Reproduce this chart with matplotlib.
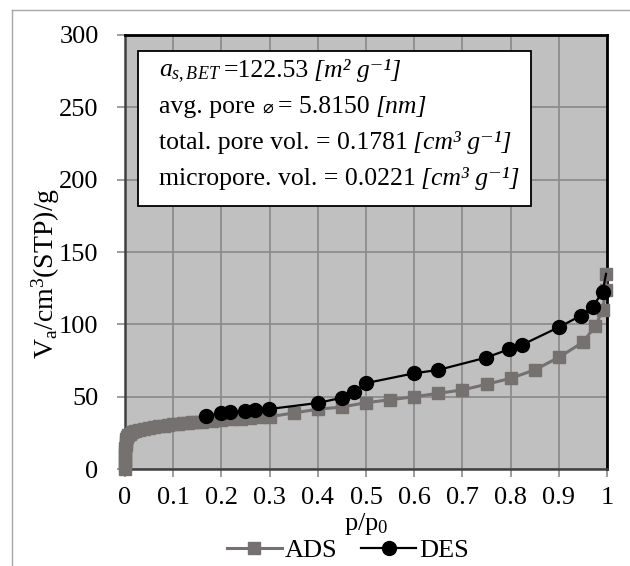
import matplotlib.pyplot as plt
from matplotlib.lines import Line2D
from matplotlib.patches import Rectangle

plt.rcParams['font.family'] = ['Liberation Serif', 'DejaVu Serif']
plt.rcParams['mathtext.fontset'] = 'custom'
plt.rcParams['mathtext.rm'] = 'Liberation Serif'
plt.rcParams['mathtext.it'] = 'Liberation Serif:italic'
plt.rcParams['mathtext.bf'] = 'Liberation Serif:bold'

# adsorption branch (p/p0, Va)
ads_p = [0.0, 0.0, 0.0, 0.0, 0.0005, 0.001, 0.0015, 0.002, 0.003, 0.005,
         0.007, 0.01, 0.015, 0.02, 0.03, 0.04, 0.05, 0.06, 0.07, 0.08,
         0.09, 0.1, 0.11, 0.12, 0.13, 0.14, 0.15, 0.16, 0.18, 0.2,
         0.22, 0.24, 0.26, 0.28, 0.3, 0.35, 0.4, 0.45, 0.5, 0.55,
         0.6, 0.65, 0.7, 0.75, 0.8, 0.85, 0.9, 0.95, 0.976, 0.991,
         0.997, 0.998]
ads_v = [0.5, 3.0, 6.0, 9.0, 12.0, 15.0, 17.0, 19.0, 21.0, 22.5,
         23.5, 24.5, 25.5, 26.3, 27.3, 28.0, 28.6, 29.2, 29.7, 30.2,
         30.6, 31.0, 31.4, 31.8, 32.1, 32.4, 32.7, 33.0, 33.6, 34.1,
         34.6, 35.0, 35.5, 35.9, 36.3, 38.9, 41.5, 43.0, 46.0, 48.0,
         50.1, 52.5, 54.8, 58.7, 62.8, 68.6, 77.3, 87.7, 99.0, 110.0,
         123.8, 134.9]

# desorption branch
des_p = [0.998, 0.991, 0.970, 0.946, 0.900, 0.823, 0.797, 0.749, 0.650, 0.600,
         0.500, 0.475, 0.450, 0.400, 0.299, 0.270, 0.249, 0.218, 0.199, 0.169]
des_v = [134.9, 122.7, 111.9, 106.1, 98.1, 85.8, 82.9, 77.1, 68.6, 66.3,
         59.5, 53.3, 49.4, 45.8, 41.6, 41.0, 40.5, 39.4, 38.7, 37.0]

x_ticks = [0, 0.1, 0.2, 0.3, 0.4, 0.5, 0.6, 0.7, 0.8, 0.9, 1]
x_ticklabels = ['0', '0.1', '0.2', '0.3', '0.4', '0.5', '0.6', '0.7', '0.8', '0.9', '1']
y_ticks = [0, 50, 100, 150, 200, 250, 300]

FS = 19
INFO_FS = 18.5
ITAL = {'fontstyle': 'italic'}
DIAM = {'family': ['DejaVu Sans'], 'fontsize': 13}

# BET results, each line is a run of (text, style, space before in px)
info_lines = [
    [(r"$\mathit{a_{s,BET}}$", {}, 0), ("=122.53", {}, 3),
     ("[m\u00b2 g\u207b\u00b9]", ITAL, 5)],
    [("avg. pore", {}, 0), ("\u2300", DIAM, 7), ("= 5.8150", {}, 5),
     ("[nm]", ITAL, 6)],
    [("total. pore vol. = 0.1781", {}, 0), ("[cm\u00b3 g\u207b\u00b9]", ITAL, 5)],
    [("micropore. vol. = 0.0221", {}, 0), ("[cm\u00b3 g\u207b\u00b9]", ITAL, 5)],
]

ADS_COLOR = '#767171'

fig = plt.figure(figsize=(6.3, 5.66), dpi=100)
ax = fig.add_axes([0.1984, 0.1708, 0.7651, 0.7679])
ax.set_facecolor('#C0C0C0')

ax.plot(ads_p, ads_v, color=ADS_COLOR, lw=2.2, marker='s', ms=8,
        clip_on=False, zorder=3, label='ADS')
ax.plot(des_p, des_v, color='black', lw=1.6, marker='o', ms=10,
        markevery=list(range(1, len(des_p))), clip_on=False, zorder=4,
        label='DES')

ax.set_xlim(0, 1)
ax.set_ylim(0, 300)
ax.set_xticks(x_ticks)
ax.set_xticklabels(x_ticklabels)
ax.set_yticks(y_ticks)
ax.grid(True, color='#8C8C8C', lw=1.3)
ax.set_axisbelow(True)
ax.tick_params(axis='both', labelsize=FS, length=6, width=1.2,
               color='#8C8C8C', direction='out')
ax.tick_params(axis='y', pad=13)
ax.tick_params(axis='x', pad=7)

for side in ['top', 'right']:
    ax.spines[side].set_color('black')
    ax.spines[side].set_linewidth(2)
for side in ['left', 'bottom']:
    ax.spines[side].set_color('#404040')
    ax.spines[side].set_linewidth(1.8)

ax.set_ylabel(r"$\mathrm{V_a/cm^3(STP)/g}$", fontsize=20)
ax.yaxis.set_label_coords(-0.13, 0.45)
ax.set_xlabel(r"$\mathrm{p/p_0}$", fontsize=FS, labelpad=1)

# white info box with BET results
ax.add_patch(Rectangle((0.027, 0.6065), 0.815, 0.3565, transform=ax.transAxes,
                       facecolor='white', edgecolor='black', lw=1.3, zorder=5))

renderer = fig.canvas.get_renderer()
px = 1.0 / ax.bbox.width   # one pixel in axes units
for i, pieces in enumerate(info_lines):
    x = 0.0705
    y = 0.9027 - i * 0.0828
    for s, kw, space in pieces:
        style = {'fontsize': INFO_FS}
        style.update(kw)
        x += space * px
        t = ax.text(x, y, s, transform=ax.transAxes, va='baseline', ha='left',
                    zorder=6, **style)
        bb = t.get_window_extent(renderer)
        x = ax.transAxes.inverted().transform((bb.x1, bb.y0))[0]

fig.legend(loc='center', bbox_to_anchor=(0.552, 0.027), ncol=2, frameon=False,
           fontsize=FS, handlelength=2.1, columnspacing=0.9, handletextpad=0.1,
           borderaxespad=0)

# chart area border
fig.add_artist(Line2D([12 / 630, 12 / 630], [0, 1 - 10 / 566],
                      transform=fig.transFigure, color='#A6A6A6', lw=1))
fig.add_artist(Line2D([12 / 630, 1], [1 - 10 / 566, 1 - 10 / 566],
                      transform=fig.transFigure, color='#A6A6A6', lw=1))

fig.savefig('out.png', dpi=100)
